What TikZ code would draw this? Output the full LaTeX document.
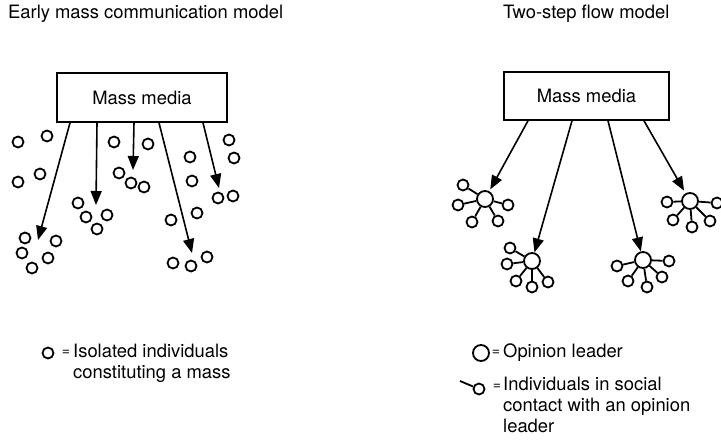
\documentclass[tikz,border=0pt]{standalone}
\usepackage{fontspec}
\setmainfont{TeX Gyre Heros}
\usetikzlibrary{arrows.meta}
\begin{document}
\begin{tikzpicture}[x=1pt,y=-1pt,
  every node/.style={font=\fontsize{18.4}{21}\selectfont},
  mediabox/.style={draw,line width=1.6pt,minimum width=170pt,minimum height=49pt,inner sep=0pt},
  person/.style={draw,circle,line width=1.8pt,minimum size=11pt,inner sep=0pt},
  leader/.style={draw,circle,line width=1.8pt,minimum size=16pt,inner sep=0pt},
  flow/.style={line width=1.6pt,-{Triangle[length=14pt,width=11pt]}},
  tie/.style={line width=1.8pt},
  eqsign/.style={font=\fontsize{14}{15}\selectfont,inner sep=0pt},
  caption/.style={align=left,anchor=west,inner sep=0pt}]
\useasboundingbox (0,0) rectangle (721,441);

% ---------- titles ----------
\node[anchor=west,inner sep=0pt] (t1) at (8,14) {Early mass communication model};
\node[anchor=west,inner sep=0pt] (t2) at (503,14) {Two-step flow model};

% ---------- early mass communication model ----------
\node[mediabox] (mmL) at (142,97.5) {Mass media};

\foreach \px/\py [count=\k] in {
  18/142, 47/136, 18/182, 40/174,
  114/142, 148/144, 119/173, 131/183, 144/187,
  78/203, 86/217, 107/215, 97/229,
  25/238, 56/241, 22/253, 48/258, 32/268,
  190/157, 192/181, 171/220, 197/213,
  173/263, 191/266, 207/257,
  229/140, 234/158, 218/198, 233/196}
  \node[person] (p\k) at (\px,\py) {};

\coordinate (e1) at (38,240);
\coordinate (e2) at (96,205);
\coordinate (e3) at (133,170);
\coordinate (e4) at (192,253);
\coordinate (e5) at (219,188);
\draw[flow] ([xshift=-72pt]mmL.south) -- (e1);
\draw[flow] ([xshift=-45pt]mmL.south) -- (e2);
\draw[flow] ([xshift=-8pt]mmL.south) -- (e3);
\draw[flow] ([xshift=17pt]mmL.south) -- (e4);
\draw[flow] ([xshift=61pt]mmL.south) -- (e5);

% ---------- two-step flow model ----------
\node[mediabox,minimum width=165pt,minimum height=48pt] (mmR) at (586.5,96) {Mass media};

\node[leader] (L1) at (485,199) {};
\node[leader] (L2) at (532,261) {};
\node[leader] (L3) at (643,260) {};
\node[leader] (L4) at (690,201) {};

\foreach \dx/\dy [count=\k] in {-22/-14, -27/6, -13/23, 13/22, 23/6}{
  \node[person] (La\k) at ([shift={(\dx,\dy)}]L1) {};
  \draw[tie] (L1) -- (La\k);}
\foreach \dx/\dy [count=\k] in {-22/-13, -25/3, -16/20, 0/26, 16/21}{
  \node[person] (Lb\k) at ([shift={(\dx,\dy)}]L2) {};
  \draw[tie] (L2) -- (Lb\k);}
\foreach \dx/\dy [count=\k] in {-26/6, -15/21, 4/27, 19/17, 26/1}{
  \node[person] (Lc\k) at ([shift={(\dx,\dy)}]L3) {};
  \draw[tie] (L3) -- (Lc\k);}
\foreach \dx/\dy [count=\k] in {-23/1, -17/19, 2/26, 20/20, 27/2}{
  \node[person] (Ld\k) at ([shift={(\dx,\dy)}]L4) {};
  \draw[tie] (L4) -- (Ld\k);}

\draw[flow,shorten >=2pt] ([xshift=-58.5pt]mmR.south) -- (L1);
\draw[flow] ([xshift=-14.5pt]mmR.south) -- (L2);
\draw[flow] ([xshift=21.5pt]mmR.south) -- (L3);
\draw[flow,shorten >=3pt] ([xshift=57.5pt]mmR.south) -- (L4);

% ---------- keys ----------
\node[person] (k1) at (48,353) {};
\node[eqsign] (k1eq) at (66,353) {=};
\node[caption] (k1t) at (73,363.5) {Isolated individuals\\constituting a mass};

\node[leader] (k2) at (481,353) {};
\node[eqsign] (k2eq) at (496,353) {=};
\node[caption] (k2t) at (503,353) {Opinion leader};

\coordinate (k3a) at (460,381);
\node[person] (k3) at (479,389) {};
\draw[tie] (k3a) -- (k3);
\node[eqsign] (k3eq) at (497,387) {=};
\node[caption,anchor=north west] (k3t) at (503,377) {Individuals in social\\contact with an opinion\\leader};
\end{tikzpicture}
\end{document}
